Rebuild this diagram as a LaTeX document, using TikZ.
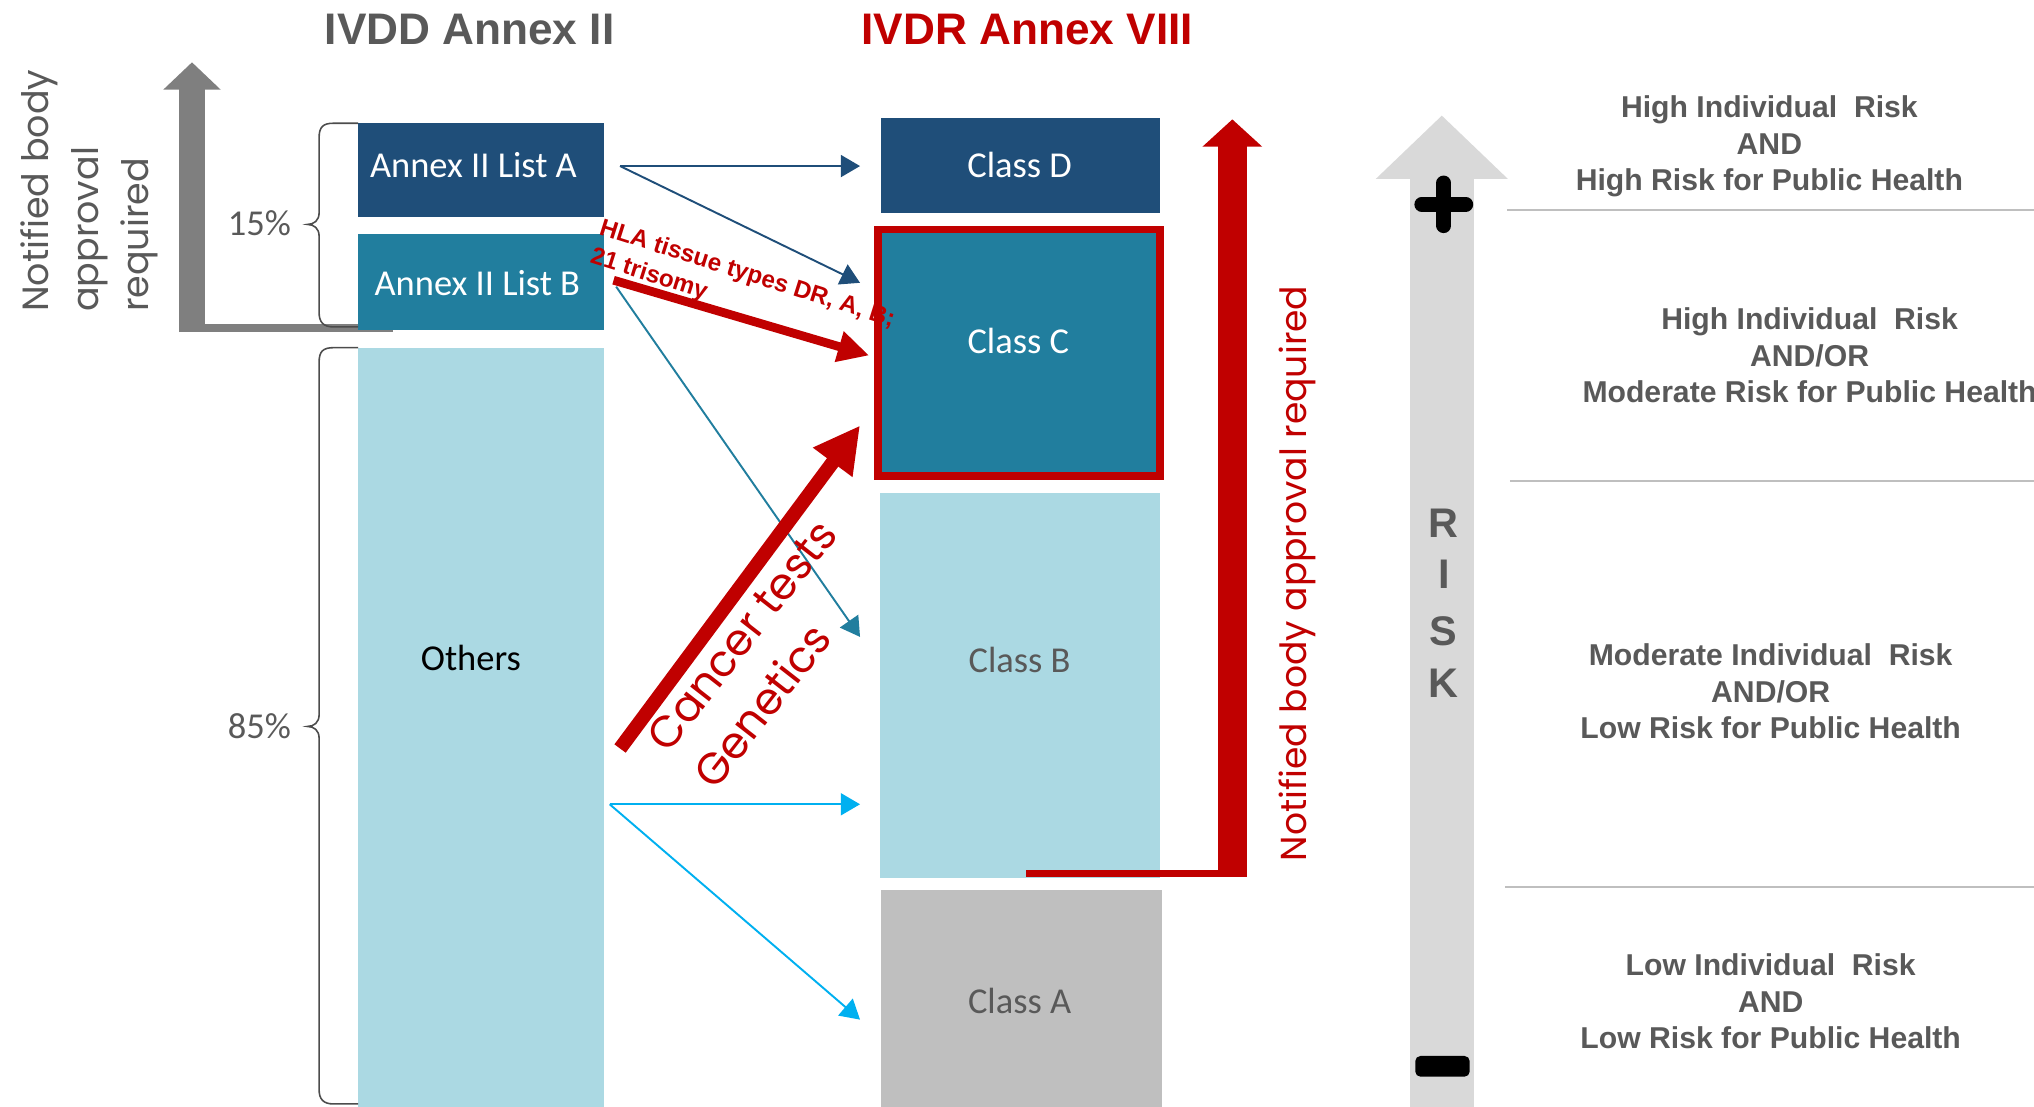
\documentclass[tikz,border=0pt]{standalone}
\usepackage{fontspec}
\setmainfont{Liberation Sans}
\newfontfamily\calibrifont{Carlito}
\newfontfamily\gothicfont{Poppins}
\usepackage{tikz}
\usetikzlibrary{positioning,fit,arrows.meta}

\definecolor{navybox}{HTML}{1F4E79}
\definecolor{tealbox}{HTML}{217E9E}
\definecolor{lightbox}{HTML}{ABD9E3}
\definecolor{greybox}{HTML}{BFBFBF}
\definecolor{ivdrred}{HTML}{C00000}
\definecolor{textgrey}{HTML}{595959}
\definecolor{axisgrey}{HTML}{7F7F7F}
\definecolor{riskgrey}{HTML}{D9D9D9}
\definecolor{skyline}{HTML}{00B0F0}
\definecolor{sepgrey}{HTML}{BFBFBF}

\tikzset{
  box/.style={rectangle,inner sep=0pt,outer sep=0pt},
  boxtext/.style={inner sep=0pt,font=\calibrifont\fontsize{10.4}{12}\selectfont},
  title/.style={font=\bfseries\fontsize{12.6}{15}\selectfont},
  thin arrow/.style={line width=0.55pt,-{Triangle[length=5.5pt,width=6.3pt]}},
  brace line/.style={draw=black!70,line width=0.45pt},
  riskline/.style={draw=sepgrey,line width=0.55pt},
  risktext/.style={align=center,text=textgrey,font=\bfseries\fontsize{8.6}{10.4}\selectfont},
  riskletter/.style={text=textgrey,font=\bfseries\fontsize{11.8}{14}\selectfont},
}

\begin{document}
\begin{tikzpicture}[x=0.013cm,y=-0.013cm]
\useasboundingbox (0,0) rectangle (1568,853);
\clip (0,0) rectangle (1568,853);

% titles
\node[title,text=textgrey] (ivdd) at (362,23) {IVDD Annex II};
\node[title,text=ivdrred] (ivdr) at (792,23) {IVDR Annex VIII};

% grey axis on the left
\coordinate (axisBase) at (148,256);
\coordinate (axisTop) at (148,48);
\fill[axisgrey] (138,250) rectangle (303,256);
\draw[axisgrey,line width=7.4pt,-{Triangle[length=7.8pt,width=15.9pt]}] (axisBase) -- (axisTop);
\node[rotate=90,anchor=north west,align=left,inner sep=0pt,text=textgrey,
  font=\gothicfont\fontsize{10.4}{14.3}\selectfont] (nbLeft) at (15,241)
  {Notified body\\approval\\required};

% IVDD column
\node[box,fill=navybox,fit={(276,95) (466,167)}] (listA) {};
\node[box,fill=tealbox,fit={(276,180) (466,254)}] (listB) {};
\node[box,fill=lightbox,fit={(276,268) (466,860)}] (others) {};
\node[boxtext,text=white] (listAtxt) at (365,127) {Annex II List A};
\node[boxtext,text=white] (listBtxt) at (368,218) {Annex II List B};
\node[boxtext,text=black] (othersTxt) at (363,507) {Others};

% braces
\draw[brace line] (276,95) -- (257,95) .. controls (249,95) and (246,98) .. (246,106)
  -- (246,164) .. controls (246,170) and (242,173) .. (237,173)
  .. controls (242,173) and (246,176) .. (246,182)
  -- (246,241) .. controls (246,248) and (249,252) .. (257,252) -- (276,252);
\draw[brace line] (276,268) -- (257,268) .. controls (249,268) and (246,271) .. (246,279)
  -- (246,551) .. controls (246,557) and (242,560) .. (237,560)
  .. controls (242,560) and (246,563) .. (246,569)
  -- (246,840) .. controls (246,847) and (249,851) .. (257,851) -- (276,851);
\node[boxtext,text=textgrey] (pct15) at (200,172) {15\%};
\node[boxtext,text=textgrey] (pct85) at (200,560) {85\%};

% IVDR column
\node[box,fill=navybox,fit={(679,91) (894,164)}] (classD) {};
\node[box,fill=tealbox,draw=ivdrred,line width=2.2pt,fit={(677,177) (894,367)}] (classC) {};
\node[box,fill=lightbox,fit={(678,380) (894,677)}] (classB) {};
\node[box,fill=greybox,fit={(679,686) (896,860)}] (classA) {};
\node[boxtext,text=white] (classDtxt) at (786,127) {Class D};
\node[boxtext,text=white] (classCtxt) at (785,263) {Class C};
\node[boxtext,text=textgrey] (classBtxt) at (786,509) {Class B};
\node[boxtext,text=textgrey] (classAtxt) at (786,772) {Class A};

% arrow ends
\coordinate (aOut) at (478,128);
\coordinate (dIn) at (663,128);
\coordinate (cInA) at (663,218);
\coordinate (bOut) at (475,221);
\coordinate (bIn) at (663,491);
\coordinate (hlaOut) at (473,216);
\coordinate (cInHla) at (670,274);
\coordinate (cancerOut) at (478,577);
\coordinate (cInCancer) at (663,328);
\coordinate (oOut) at (470,620);
\coordinate (bInO) at (663,620);
\coordinate (aIn) at (663,786);

\draw[thin arrow,navybox] (aOut) -- (dIn);
\draw[thin arrow,navybox] (aOut) -- (cInA);
\draw[thin arrow,tealbox] (bOut) -- (bIn);
\draw[thin arrow,skyline] (oOut) -- (bInO);
\draw[thin arrow,skyline] (oOut) -- (aIn);

% red up-classification arrows
\draw[ivdrred,line width=2.5pt,-{Triangle[length=8.9pt,width=8.5pt]}] (hlaOut) -- (cInHla);
\draw[ivdrred,line width=4pt,-{Triangle[length=13.1pt,width=13.1pt]}] (cancerOut) -- (cInCancer);
\node[rotate=-17.5,anchor=north west,align=left,inner sep=0pt,text=ivdrred,
  font=\bfseries\fontsize{6.9}{8.5}\selectfont] (hlaTxt) at (465,167)
  {HLA tissue types DR, A, B;\\21 trisomy};
\node[rotate=52,align=left,inner sep=0pt,text=ivdrred,
  font=\gothicfont\fontsize{12.5}{17}\selectfont] (cancerTxt) at (590,504)
  {Cancer tests\\Genetics};

% notified body arrow on the right
\coordinate (nbBase) at (950,676);
\coordinate (nbTop) at (950,92);
\fill[ivdrred] (791,671) rectangle (961,676);
\draw[ivdrred,line width=8.1pt,-{Triangle[length=7.8pt,width=16.6pt]}] (nbBase) -- (nbTop);
\node[rotate=90,text=ivdrred,inner sep=0pt,
  font=\gothicfont\fontsize{10.3}{12}\selectfont] (nbRight) at (1000,442)
  {Notified body approval required};

% risk scale
\coordinate (riskBase) at (1111.5,870);
\coordinate (riskTop) at (1111.5,89);
\draw[riskgrey,line width=18.1pt,-{Triangle[length=18.1pt,width=36.6pt]}] (riskBase) -- (riskTop);
\draw[black,line width=4.2pt,line cap=round] (1096,157.5) -- (1130,157.5) (1113,141) -- (1113,174);
\fill[black,rounded corners=1.5pt] (1091,814) rectangle (1133,830);
\foreach \ch/\yy [count=\i] in {R/403,I/443,S/487,K/527}
  \node[riskletter] (letter\i) at (1113,\yy) {\ch};

\draw[riskline] (1162,162) -- (1568,162);
\draw[riskline] (1164,371) -- (1568,371);
\draw[riskline] (1160,684) -- (1568,684);

\node[risktext] (risk1) at (1364,113) {High Individual~~Risk\\AND\\High Risk for Public Health};
\node[risktext] (risk2) at (1395,274) {High Individual~~Risk\\AND/OR\\Moderate Risk for Public Health};
\node[risktext] (risk3) at (1365,533) {Moderate Individual~~Risk\\AND/OR\\Low Risk for Public Health};
\node[risktext] (risk4) at (1365,772) {Low Individual~~Risk\\AND\\Low Risk for Public Health};
\end{tikzpicture}
\end{document}
